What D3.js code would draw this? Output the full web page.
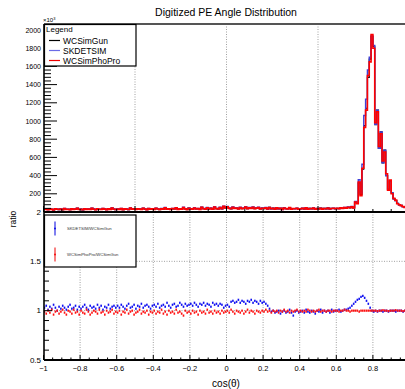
<!DOCTYPE html>
<html>
<head>
<meta charset="utf-8">
<script src="https://cdn.jsdelivr.net/npm/d3@7"></script>
<style>
  body { margin: 0; background: #fff; }
  text { font-family: "Liberation Sans", Arial, sans-serif; }
</style>
</head>
<body>
<svg id="chart" width="405" height="389"></svg>
<script>
// histogram: 200 bins of width 0.01 over cos(theta) in [-1, 1]
const binLo = -1, binWidth = 0.01;

const gunCounts = [
  29,30,26,33,30,23,35,31,26,34,25,37,30,30,27,34,29,31,39,28,
  31,24,35,30,32,28,40,32,25,35,29,29,36,33,26,34,30,42,32,26,
  34,28,37,27,34,32,27,43,31,33,28,35,33,28,41,32,27,36,32,34,
  30,41,34,27,37,30,46,31,34,28,38,34,44,30,35,33,49,35,27,42,
  34,31,43,34,37,30,51,37,30,48,33,41,29,54,38,32,49,34,60,46,
  56,41,35,50,39,43,34,48,38,41,54,36,45,40,51,37,42,49,33,42,
  37,46,32,51,35,43,30,48,34,41,28,45,36,34,47,32,38,36,41,31,
  35,41,32,46,30,39,34,44,29,38,33,42,31,40,35,45,32,39,41,36,
  39,38,44,40,47,43,51,46,56,44,105,95,320,190,470,950,1140,1480,1680,1930,
  1820,960,1120,700,880,540,680,400,250,340,210,145,125,95,78,72,58,52,44,40
];
const skdetCounts = [
  30,32,27,34,31,25,37,32,27,35,26,39,31,32,28,36,30,33,41,29,
  32,25,37,31,33,29,42,33,26,37,30,30,38,34,27,36,31,44,33,27,
  36,29,39,28,35,33,28,45,32,35,29,37,34,30,43,34,28,38,33,36,
  32,43,36,29,39,32,49,33,36,30,40,36,47,32,37,35,52,37,29,45,
  36,33,46,36,39,32,54,39,32,51,35,44,31,57,40,34,52,36,63,48,
  61,45,38,55,42,47,37,52,41,45,59,39,49,44,55,40,46,53,36,45,
  40,49,33,51,35,43,30,48,34,41,28,45,36,34,47,32,37,36,41,31,
  35,41,32,46,30,39,34,44,29,38,33,42,31,40,35,45,32,39,41,36,
  39,38,45,41,49,46,55,51,62,48,115,105,355,210,525,1060,1240,1560,1700,1935,
  1830,965,1120,700,880,540,680,400,250,340,210,145,125,95,78,72,58,52,44,40
];
const phoproCounts = [
  28,31,25,34,29,22,36,30,27,33,24,38,29,31,26,35,28,32,40,27,
  30,25,36,29,33,27,41,31,26,34,30,28,37,32,25,35,29,43,31,27,
  33,29,38,26,35,31,28,44,30,34,27,36,32,29,40,33,26,37,31,35,
  29,42,33,28,36,31,47,30,35,27,39,33,45,29,36,32,50,34,28,41,
  35,30,44,33,38,29,52,36,31,47,34,40,30,55,37,33,48,35,62,45,
  58,40,36,51,38,44,33,49,37,42,55,35,46,39,52,36,43,48,34,41,
  38,45,33,50,36,42,31,47,35,40,29,44,37,33,48,31,39,35,42,30,
  36,40,33,45,31,38,35,43,30,37,34,41,32,39,36,44,33,38,42,35,
  40,37,45,39,48,42,52,47,58,45,110,90,330,180,480,930,1120,1500,1650,1950,
  1800,980,1100,720,860,560,660,420,240,350,200,150,130,90,80,70,60,50,45,40
];

// ratios per bin
const skdetRatio = [
  1.03,1.05,1.01,1.04,1.02,1.06,1.03,1.00,1.04,1.02,1.05,1.03,1.01,1.04,1.06,1.02,1.03,1.05,1.01,1.04,
  1.02,1.04,1.06,1.03,1.01,1.05,1.03,1.04,1.02,1.06,1.03,1.05,1.01,1.04,1.03,1.06,1.02,1.04,1.05,1.03,
  1.05,1.03,1.06,1.04,1.02,1.05,1.07,1.03,1.04,1.06,1.02,1.05,1.04,1.07,1.03,1.05,1.06,1.04,1.02,1.05,
  1.06,1.04,1.07,1.03,1.05,1.06,1.04,1.08,1.05,1.03,1.06,1.07,1.04,1.05,1.08,1.06,1.04,1.07,1.05,1.06,
  1.07,1.05,1.08,1.06,1.04,1.07,1.06,1.08,1.05,1.07,1.06,1.04,1.08,1.06,1.07,1.05,1.07,1.06,1.03,1.05,
  1.06,1.04,1.09,1.10,1.08,1.09,1.11,1.08,1.10,1.09,1.07,1.10,1.09,1.11,1.08,1.10,1.09,1.07,1.10,1.08,
  1.09,1.07,1.05,1.02,0.99,1.00,0.98,0.99,1.00,0.97,0.99,1.00,0.98,0.99,1.01,0.98,0.95,0.99,1.00,0.98,
  0.99,1.00,0.98,1.01,0.99,0.98,1.00,0.99,0.97,1.00,0.99,1.01,0.98,1.00,0.99,1.00,0.98,1.01,0.99,1.00,
  1.00,1.01,0.99,1.00,1.01,1.01,1.02,1.03,1.05,1.07,1.09,1.11,1.12,1.14,1.15,1.13,1.10,1.07,1.03,1.00,
  0.99,1.00,0.99,1.00,1.00,0.99,1.00,1.00,0.99,1.00,1.00,1.00,0.99,1.00,1.00,1.00,0.99,1.00,1.00,1.00
];
const phoproRatio = [
  0.99,0.97,1.00,0.98,1.01,0.96,0.99,1.00,0.97,0.99,1.01,0.98,0.96,1.00,0.99,0.97,1.01,0.98,0.99,0.96,
  1.00,0.98,0.97,1.01,0.99,0.96,0.98,1.00,0.99,0.97,1.01,0.98,0.99,0.96,1.00,0.98,0.99,1.01,0.97,0.99,
  0.98,1.00,0.96,0.99,0.98,1.01,0.97,0.99,1.00,0.96,0.98,0.99,1.01,0.97,0.99,0.98,1.00,0.96,0.99,0.98,
  1.00,0.97,0.99,0.98,1.01,0.97,0.99,0.96,1.00,0.98,0.99,0.97,1.01,0.98,0.99,0.97,0.95,1.00,0.98,0.99,
  0.97,1.00,0.98,0.99,0.96,1.00,0.98,0.99,0.97,1.01,0.98,0.99,0.97,1.00,0.98,0.99,0.97,1.00,0.98,0.99,
  1.00,0.98,1.01,0.99,0.97,1.00,0.99,0.98,1.00,0.97,0.99,1.01,0.98,1.00,0.99,0.97,1.00,0.99,0.98,1.00,
  0.99,1.01,0.99,1.00,0.98,1.00,0.99,1.00,0.98,1.00,0.99,1.01,0.99,1.00,0.98,1.00,0.99,1.00,1.01,0.99,
  1.00,0.99,1.00,0.99,1.01,1.00,0.99,1.00,0.99,1.00,1.01,0.99,1.00,1.00,0.99,1.00,1.00,0.99,1.00,1.00,
  1.00,0.99,1.00,1.00,1.01,1.00,1.00,0.99,1.00,1.00,1.00,1.00,0.99,1.00,1.00,1.00,1.00,1.00,1.00,1.00,
  1.00,1.00,0.995,1.00,1.00,1.005,1.00,1.00,0.995,1.00,1.00,1.00,1.005,1.00,1.00,1.00,0.995,1.00,1.00,1.00
];

const topYTicks = [200, 400, 600, 800, 1000, 1200, 1400, 1600, 1800, 2000];
const ratioYTicks = [0.5, 1, 1.5, 2];
const ratioYLabels = ["0.5", "1", "1.5", "2"];
const xTicks = [-1, -0.8, -0.6, -0.4, -0.2, 0, 0.2, 0.4, 0.6, 0.8];
const topGridX = [-0.5, 0, 0.5];

const legendTop = [
  {name: "WCSimGun", color: "#000"},
  {name: "SKDETSIM", color: "#6b6be6"},
  {name: "WCSimPhoPro", color: "#e00"}
];
const legendRatio = [
  {name: "SKDETSIM/WCSimGun", color: "#0000e0"},
  {name: "WCSimPhoPro/WCSimGun", color: "#f00000"}
];

const svg = d3.select("#chart");
const left = 44, right = 405;
const topT = 24, topB = 212, botB = 360;

const x = d3.scaleLinear().domain([-1, 1]).range([43.5, 409.5]);
const yTop = d3.scaleLinear().domain([0, 2066]).range([topB, topT]);
const yRat = d3.scaleLinear().domain([0.5, 2]).range([botB, topB]);

svg.append("defs").append("clipPath").attr("id", "clipTop")
  .append("rect").attr("x", left).attr("y", topT).attr("width", right - left).attr("height", topB - topT);
svg.select("defs").append("clipPath").attr("id", "clipBot")
  .append("rect").attr("x", left).attr("y", topB).attr("width", right - left).attr("height", botB - topB);

// title
svg.append("text").attr("x", 226).attr("y", 15.5).attr("text-anchor", "middle")
  .attr("font-size", 10.5).text("Digitized PE Angle Distribution");

// grid lines
const grid = svg.append("g").attr("stroke", "#888").attr("stroke-width", 0.8).attr("stroke-dasharray", "1,1.5");
grid.selectAll(".gt").data(topGridX).enter().append("line")
  .attr("x1", d => x(d)).attr("x2", d => x(d)).attr("y1", topT).attr("y2", topB);
grid.selectAll(".gb").data(xTicks.slice(1)).enter().append("line")
  .attr("x1", d => x(d)).attr("x2", d => x(d)).attr("y1", topB).attr("y2", botB);
grid.selectAll(".gh").data([1, 1.5]).enter().append("line")
  .attr("x1", left).attr("x2", right).attr("y1", d => yRat(d)).attr("y2", d => yRat(d));

// histograms
const stepLine = d3.line().x(d => x(d[0])).y(d => yTop(d[1]));
function steps(counts) {
  const pts = [];
  counts.forEach((v, i) => {
    pts.push([binLo + i * binWidth, v]);
    pts.push([binLo + (i + 1) * binWidth, v]);
  });
  return pts;
}
const hist = svg.append("g").attr("clip-path", "url(#clipTop)").attr("fill", "none");
hist.append("path").attr("d", stepLine(steps(gunCounts))).attr("stroke", "#000").attr("stroke-width", 1.2);
hist.append("path").attr("d", stepLine(steps(skdetCounts))).attr("stroke", "#4040d8").attr("stroke-width", 1.4);
hist.append("path").attr("d", stepLine(steps(phoproCounts))).attr("stroke", "#ff0000").attr("stroke-width", 1.6);

// ratio points
const pts = svg.append("g").attr("clip-path", "url(#clipBot)");
function drawRatio(vals, color) {
  pts.selectAll(null).data(vals).enter().append("rect")
    .attr("x", (d, i) => x(binLo + (i + 0.5) * binWidth) - 0.8)
    .attr("y", d => yRat(d) - 1.1)
    .attr("width", 1.6).attr("height", 2.2)
    .attr("fill", color);
}
drawRatio(skdetRatio, "#1010f0");
drawRatio(phoproRatio, "#ff1010");

// frame / axes lines
svg.append("line").attr("x1", left).attr("x2", right).attr("y1", topT).attr("y2", topT)
  .attr("stroke", "#555").attr("stroke-width", 2);
svg.append("line").attr("x1", left).attr("x2", right).attr("y1", topB).attr("y2", topB)
  .attr("stroke", "#000").attr("stroke-width", 2);
svg.append("line").attr("x1", left).attr("x2", right).attr("y1", botB).attr("y2", botB)
  .attr("stroke", "#000").attr("stroke-width", 2);
svg.append("line").attr("x1", left).attr("x2", left).attr("y1", topT).attr("y2", botB)
  .attr("stroke", "#000").attr("stroke-width", 1.6);

// top y axis
const topAxis = svg.append("g").attr("transform", `translate(${left},0)`);
topAxis.call(g => {
  const minor = d3.range(0, 2066, 40);
  g.selectAll(".mn").data(minor).enter().append("line")
    .attr("x1", 0).attr("x2", d => d % 200 === 0 ? 13 : 7)
    .attr("y1", d => yTop(d)).attr("y2", d => yTop(d))
    .attr("stroke", "#000").attr("stroke-width", 1);
  g.selectAll(".lb").data(topYTicks).enter().append("text")
    .attr("x", -3).attr("y", d => yTop(d) + 2.5).attr("text-anchor", "end")
    .attr("font-size", 7).text(d => d);
});
svg.append("text").attr("x", 43).attr("y", 22).attr("font-size", 6)
  .text("\u00d710").append("tspan").attr("dy", -2.5).attr("font-size", 4).text("3");

// top x ticks (upward from bottom of upper pad)
svg.append("g").selectAll("line").data(d3.range(-1, 1.001, 0.1)).enter().append("line")
  .attr("x1", d => x(d)).attr("x2", d => x(d))
  .attr("y1", topB).attr("y2", d => Math.abs(Math.round(d * 10) % 5) === 0 ? topB - 6 : topB - 3)
  .attr("stroke", "#000").attr("stroke-width", 1);

// ratio y axis
const ratAxis = svg.append("g").attr("transform", `translate(${left},0)`);
ratAxis.selectAll("line").data(d3.range(0.5, 2.001, 0.1)).enter().append("line")
  .attr("x1", 0).attr("x2", d => Math.abs(d * 2 - Math.round(d * 2)) < 1e-6 ? 8 : 5)
  .attr("y1", d => yRat(d)).attr("y2", d => yRat(d))
  .attr("stroke", "#000").attr("stroke-width", 1);
ratAxis.selectAll("text").data(ratioYTicks).enter().append("text")
  .attr("x", -3).attr("y", d => yRat(d) + 2.8).attr("text-anchor", "end")
  .attr("font-size", 8).text((d, i) => ratioYLabels[i]);

// bottom x axis
const xb = svg.append("g");
xb.selectAll("line").data(d3.range(-1, 1.001, 0.05)).enter().append("line")
  .attr("x1", d => x(d)).attr("x2", d => x(d))
  .attr("y1", botB).attr("y2", (d, i) => i % 4 === 0 ? botB - 5 : botB - 2.5)
  .attr("stroke", "#000").attr("stroke-width", 1);
xb.selectAll("text").data(xTicks).enter().append("text")
  .attr("x", d => x(d)).attr("y", 371).attr("text-anchor", "middle")
  .attr("font-size", 7.5).text(d => d < 0 ? "\u2212" + Math.abs(d) : d);

// axis titles
svg.append("text").attr("x", 226).attr("y", 387).attr("text-anchor", "middle")
  .attr("font-size", 10).text("cos(\u03b8)");
svg.append("text").attr("transform", "translate(16,219) rotate(-90)").attr("text-anchor", "middle")
  .attr("font-size", 8.5).text("ratio");

// legend (upper)
const lg = svg.append("g");
lg.append("rect").attr("x", 44.5).attr("y", 24.5).attr("width", 91.5).attr("height", 41.5)
  .attr("fill", "#fff").attr("stroke", "#000").attr("stroke-width", 1.2);
lg.append("text").attr("x", 46).attr("y", 31.5).attr("font-size", 8).text("Legend");
legendTop.forEach((d, i) => {
  const yy = 40.5 + i * 10;
  lg.append("line").attr("x1", 49).attr("x2", 60).attr("y1", yy).attr("y2", yy)
    .attr("stroke", d.color).attr("stroke-width", 1.2);
  lg.append("text").attr("x", 63).attr("y", yy + 3).attr("font-size", 8.5).text(d.name);
});

// legend (ratio)
const lr = svg.append("g");
lr.append("rect").attr("x", 44.5).attr("y", 215).attr("width", 91.5).attr("height", 52)
  .attr("fill", "#fff").attr("stroke", "#000").attr("stroke-width", 1.2);
legendRatio.forEach((d, i) => {
  const yy = 228.5 + i * 26;
  lr.append("line").attr("x1", 55).attr("x2", 55).attr("y1", yy - 7).attr("y2", yy + 7)
    .attr("stroke", d.color).attr("stroke-width", 1);
  lr.append("rect").attr("x", 54.2).attr("y", yy - 0.8).attr("width", 1.6).attr("height", 1.6).attr("fill", d.color);
  lr.append("text").attr("x", 67).attr("y", yy + 1.5).attr("font-size", 4.2).attr("fill", "#333").text(d.name);
});
</script>
</body>
</html>
